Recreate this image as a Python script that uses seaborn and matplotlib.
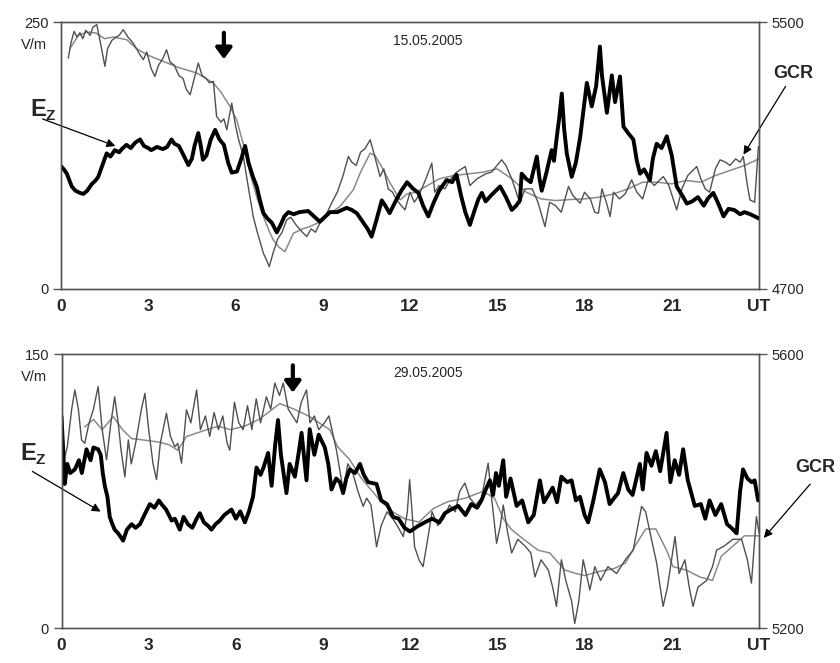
import numpy as np
import pandas as pd
import matplotlib
matplotlib.use("Agg")
import matplotlib.pyplot as plt
import seaborn as sns

sns.set_theme(style="white")
plt.rcParams['font.family'] = ['Liberation Sans', 'DejaVu Sans']

# ---------------- 15.05.2005 ----------------
ez1_t = [0.0,0.1,0.2,0.37,0.5,0.65,0.77,0.9,1.05,1.2,1.28,1.45,1.57,1.7,1.85,2.0,2.09,2.25,2.4,2.55,2.72,2.85,3.0,3.1,3.3,3.5,3.65,3.8,3.9,4.05,4.2,4.38,4.5,4.6,4.72,4.8,4.88,5.0,5.15,5.3,5.45,5.6,5.75,5.87,6.05,6.2,6.33,6.45,6.6,6.73,6.85,6.96,7.1,7.25,7.42,7.55,7.68,7.82,8.0,8.2,8.5,8.7,8.9,9.05,9.25,9.5,9.82,10.0,10.17,10.4,10.55,10.68,10.85,11.03,11.15,11.3,11.5,11.7,11.9,12.1,12.29,12.45,12.63,12.8,13.0,13.1,13.26,13.45,13.6,13.75,13.9,14.06,14.2,14.35,14.47,14.6,14.8,15.1,15.3,15.5,15.65,15.78,15.84,16.0,16.15,16.36,16.45,16.53,16.7,16.87,16.95,17.05,17.13,17.22,17.3,17.39,17.56,17.7,17.85,18.02,18.08,18.25,18.4,18.53,18.6,18.77,18.94,19.05,19.22,19.34,19.5,19.68,19.8,19.91,20.05,20.25,20.35,20.48,20.65,20.83,21.0,21.17,21.35,21.52,21.7,21.9,22.1,22.25,22.43,22.6,22.78,22.95,23.15,23.35,23.5,23.7,23.85,24.0]
ez1_v = [115,112,108,96,92,90,89,92,98,102,105,118,127,124,130,128,131,135,132,137,140,134,132,130,133,131,133,140,136,134,126,116,122,135,146,135,121,125,140,149,140,135,118,109,110,122,134,118,105,96,82,71,66,62,53,60,68,72,70,72,73,68,63,67,72,72,76,74,71,62,56,49,65,83,78,71,82,92,100,94,90,78,68,80,92,96,102,100,107,88,72,60,72,84,90,82,88,96,86,74,78,83,108,103,100,124,104,92,110,130,120,143,160,183,150,127,105,118,142,180,193,171,190,227,200,165,200,175,199,152,146,140,120,108,112,102,122,136,132,143,125,96,88,80,82,86,78,85,90,80,68,75,74,70,72,70,68,66]

gcr1a_t = [0.25,0.35,0.45,0.55,0.65,0.75,0.85,1.0,1.1,1.23,1.35,1.51,1.6,1.75,1.9,2.0,2.14,2.3,2.45,2.6,2.73,2.83,2.95,3.1,3.23,3.35,3.5,3.63,3.75,3.9,4.05,4.2,4.3,4.44,4.55,4.72,4.85,5.0,5.1,5.24,5.35,5.5,5.6,5.7,5.87,6.0,6.1,6.27,6.45,6.61,6.75,6.96,7.05,7.16,7.3,7.45,7.6,7.76,7.9,8.1,8.3,8.45,8.6,8.75,8.9,9.1,9.36,9.5,9.7,9.88,10.0,10.15,10.3,10.45,10.63,10.75,10.97,11.1,11.25,11.4,11.54,11.7,11.83,12.0,12.15,12.3,12.5,12.75,12.85,13.0,13.2,13.4,13.6,13.9,14.06,14.3,14.6,14.8,15.15,15.3,15.5,15.78,15.95,16.2,16.4,16.64,16.8,17.0,17.2,17.45,17.6,17.85,18.0,18.2,18.35,18.48,18.6,18.75,18.88,19.0,19.2,19.4,19.62,19.8,20.0,20.2,20.4,20.71,20.9,21.17,21.35,21.55,21.86,22.0,22.15,22.3,22.5,22.66,22.85,23.0,23.2,23.35,23.46,23.6,23.69,23.85,23.98]
gcr1a_v = [5392,5440,5472,5455,5468,5450,5475,5460,5485,5492,5440,5367,5420,5445,5455,5460,5477,5455,5440,5420,5400,5387,5410,5360,5337,5370,5390,5417,5380,5370,5340,5330,5300,5282,5320,5377,5340,5330,5318,5322,5217,5200,5210,5177,5257,5190,5150,5097,5000,4917,4870,4807,4790,4767,4810,4850,4870,4907,4915,4890,4870,4857,4880,4870,4897,4920,4967,4990,5040,5097,5080,5070,5110,5120,5147,5110,5037,5060,5000,4990,4967,4950,4937,4990,4960,4980,5020,5077,4990,5010,5000,5030,5050,5067,5010,5030,5045,5050,5087,5070,5030,4957,5000,5000,4960,4887,4960,4950,4930,5007,4980,4957,4990,4970,4930,4927,5000,4960,4917,4990,4970,4985,5027,4990,4970,5030,5010,5037,5010,4937,5000,5040,5067,5030,5000,4990,5060,5087,5080,5070,5090,5080,5097,5010,4967,4960,5127]

gcr1b_t = [0.3,0.6,0.9,1.2,1.5,1.8,2.26,2.6,3.0,3.52,4.0,4.67,5.24,5.5,5.81,6.04,6.25,6.5,6.75,6.96,7.15,7.3,7.5,7.7,7.99,8.3,8.56,9.0,9.3,9.59,10.05,10.3,10.63,10.8,11.0,11.3,11.66,11.9,12.2,12.6,13.0,13.5,14.0,14.5,15.0,15.5,16.0,16.5,17.0,17.5,18.0,18.5,19.0,19.5,20.0,20.5,21.0,21.5,22.0,22.5,23.0,23.5,24.0]
gcr1b_v = [5420,5460,5470,5467,5450,5455,5447,5420,5400,5382,5365,5347,5317,5290,5247,5207,5140,5047,4970,4917,4875,4847,4825,4812,4867,4880,4887,4905,4930,4947,4997,5050,5107,5100,5070,5020,4967,4985,4990,5010,5030,5040,5045,5050,5060,5030,4990,4970,4965,4968,4970,4975,4985,5000,5020,5020,5015,5025,5020,5040,5055,5070,5090]

# ---------------- 29.05.2005 ----------------
ez2_t = [0.0,0.05,0.11,0.2,0.3,0.46,0.6,0.7,0.86,1.0,1.1,1.26,1.35,1.42,1.49,1.58,1.66,1.75,1.83,1.95,2.12,2.25,2.41,2.55,2.7,2.85,3.04,3.2,3.35,3.44,3.6,3.79,3.9,4.07,4.2,4.35,4.5,4.65,4.76,4.9,5.05,5.16,5.3,5.45,5.6,5.85,6.0,6.15,6.31,6.45,6.59,6.71,6.85,6.95,7.11,7.23,7.35,7.45,7.55,7.74,7.85,8.03,8.15,8.26,8.43,8.54,8.7,8.85,9.06,9.18,9.29,9.45,9.58,9.69,9.8,9.92,10.1,10.27,10.4,10.55,10.84,11.0,11.2,11.41,11.6,11.8,11.99,12.27,12.5,12.75,13.0,13.19,13.4,13.65,13.9,14.1,14.3,14.45,14.6,14.74,14.85,14.95,15.05,15.2,15.3,15.45,15.66,15.85,16.06,16.25,16.46,16.6,16.75,16.9,17.05,17.2,17.4,17.55,17.7,17.84,18.0,18.12,18.3,18.52,18.7,18.86,19.0,19.15,19.33,19.5,19.65,19.9,20.0,20.13,20.3,20.45,20.6,20.82,20.95,21.1,21.25,21.39,21.55,21.79,22.0,22.15,22.3,22.5,22.7,22.9,23.05,23.23,23.35,23.45,23.6,23.75,23.85,23.97]
ez2_v = [116,100,79,90,85,87,92,85,98,92,99,98,95,85,78,72,61,57,54,52,48,54,57,55,57,62,68,66,70,68,65,59,60,54,61,57,55,60,63,58,56,54,57,59,62,65,60,64,58,64,72,88,84,88,96,78,100,114,95,74,90,83,95,107,81,109,95,106,99,90,76,82,80,74,82,87,85,90,84,80,79,70,68,61,60,55,53,56,58,60,58,63,65,67,62,68,66,70,76,81,73,85,78,92,72,82,67,70,58,62,81,69,73,77,69,83,80,81,70,72,62,58,70,87,80,68,71,74,85,76,73,90,76,96,89,97,86,107,80,92,84,98,81,67,68,60,70,62,68,57,55,52,75,87,82,80,81,70]

gcr2a_t = [0.05,0.2,0.35,0.46,0.58,0.69,0.8,0.95,1.1,1.26,1.4,1.55,1.7,1.83,1.95,2.05,2.18,2.3,2.4,2.55,2.75,2.87,3.0,3.15,3.27,3.4,3.61,3.75,3.9,4.0,4.13,4.3,4.45,4.65,4.78,4.95,5.1,5.25,5.4,5.55,5.7,5.79,5.95,6.1,6.25,6.4,6.55,6.7,6.85,7.05,7.2,7.34,7.5,7.63,7.8,7.95,8.1,8.25,8.43,8.55,8.7,8.85,9.05,9.2,9.46,9.58,9.69,9.85,10.0,10.2,10.38,10.5,10.65,10.84,11.0,11.2,11.4,11.55,11.76,11.9,11.98,12.15,12.3,12.44,12.6,12.75,12.95,13.15,13.35,13.55,13.7,13.88,14.05,14.25,14.45,14.68,14.8,14.97,15.1,15.2,15.35,15.49,15.7,15.95,16.15,16.29,16.5,16.75,16.9,17.03,17.2,17.35,17.55,17.66,17.8,17.95,18.18,18.35,18.55,18.8,19.1,19.4,19.67,19.96,20.1,20.3,20.48,20.6,20.7,20.85,21.11,21.25,21.45,21.6,21.73,21.9,22.2,22.4,22.54,22.8,23.1,23.4,23.6,23.74,23.91,24.0]
gcr2a_v = [5440,5465,5520,5548,5520,5475,5470,5500,5520,5553,5490,5446,5500,5538,5500,5460,5421,5475,5440,5470,5520,5543,5490,5440,5417,5470,5514,5480,5465,5470,5441,5519,5500,5548,5490,5510,5480,5515,5490,5510,5470,5460,5530,5500,5490,5525,5490,5535,5500,5538,5520,5558,5540,5558,5520,5510,5500,5530,5548,5500,5510,5490,5500,5510,5460,5430,5402,5440,5430,5400,5378,5390,5380,5319,5350,5370,5360,5350,5334,5370,5417,5319,5300,5290,5330,5370,5350,5360,5380,5370,5400,5412,5390,5380,5390,5441,5390,5324,5350,5380,5340,5310,5330,5320,5310,5275,5300,5285,5260,5232,5300,5270,5240,5207,5240,5300,5256,5290,5270,5290,5280,5300,5314,5378,5370,5330,5295,5260,5232,5260,5334,5280,5300,5260,5232,5260,5270,5290,5314,5320,5330,5330,5300,5266,5363,5340]

gcr2b_t = [0.8,1.1,1.4,1.78,2.1,2.41,2.8,3.33,3.7,4.0,4.3,4.93,5.4,5.8,6.3,6.8,7.51,8.0,8.5,9.23,9.5,9.92,10.3,10.95,11.4,11.8,12.3,12.8,13.3,13.9,14.5,14.9,15.2,15.49,15.9,16.4,16.8,17.32,17.7,18.0,18.5,19.0,19.4,19.79,20.1,20.45,20.82,21.04,21.5,21.96,22.4,22.7,23.1,23.5,24.0]
gcr2b_v = [5494,5505,5490,5509,5490,5477,5475,5472,5468,5460,5480,5489,5495,5490,5495,5505,5528,5520,5510,5490,5465,5446,5420,5387,5370,5360,5355,5375,5385,5390,5400,5390,5360,5344,5330,5314,5310,5285,5280,5277,5283,5287,5295,5324,5345,5345,5314,5290,5285,5275,5270,5305,5320,5335,5335]

x_ticks = [0, 3, 6, 9, 12, 15, 18, 21]
x_labels = ["0", "3", "6", "9", "12", "15", "18", "21"]

panels = [
    dict(ez_t=ez1_t, ez_v=ez1_v, ga_t=gcr1a_t, ga_v=gcr1a_v, gb_t=gcr1b_t, gb_v=gcr1b_v,
         ylim=(0, 250), y2lim=(4700, 5500), date="15.05.2005",
         rect=[61/840, 1-289/663, 698/840, 267/663], arrow_h=5.6,
         ez_lab=(30, 110), ez_from=(40, 118), ez_to=(118, 147),
         gcr_lab=(773, 73), gcr_from=(787, 84), gcr_to=(742, 157)),
    dict(ez_t=ez2_t, ez_v=ez2_v, ga_t=gcr2a_t, ga_v=gcr2a_v, gb_t=gcr2b_t, gb_v=gcr2b_v,
         ylim=(0, 150), y2lim=(5200, 5600), date="29.05.2005",
         rect=[61.5/840, 1-628.3/663, 697.5/840, 274/663], arrow_h=7.96,
         ez_lab=(20, 454), ez_from=(30, 470), ez_to=(103, 513),
         gcr_lab=(795, 467), gcr_from=(812, 482), gcr_to=(762, 540)),
]

fig = plt.figure(figsize=(8.4, 6.63), dpi=100)
spine_col = "#555555"

def px(x, y):
    return (x / 840, 1 - y / 663)

for p in panels:
    ax = fig.add_axes(p["rect"])
    ax2 = ax.twinx()
    df_a = pd.DataFrame({"t": p["ga_t"], "v": p["ga_v"]})
    df_b = pd.DataFrame({"t": p["gb_t"], "v": p["gb_v"]})
    df_e = pd.DataFrame({"t": p["ez_t"], "v": p["ez_v"]})
    sns.lineplot(data=df_b, x="t", y="v", ax=ax2, color="#8a8a8a", linewidth=1.1, sort=False)
    sns.lineplot(data=df_a, x="t", y="v", ax=ax2, color="#505050", linewidth=1.0, sort=False)
    sns.lineplot(data=df_e, x="t", y="v", ax=ax, color="black", linewidth=2.8, sort=False)
    ax.set_zorder(ax2.get_zorder() + 1)
    ax.patch.set_visible(False)

    ax.set_xlim(0, 24)
    ax.set_ylim(*p["ylim"])
    ax2.set_ylim(*p["y2lim"])
    ax.set_xlabel("")
    ax.set_ylabel("")
    ax2.set_ylabel("")
    ax.set_xticks(x_ticks + [24])
    ax.set_xticklabels(x_labels + ["UT"], fontsize=12.5, fontweight="bold")
    ax.set_yticks(list(p["ylim"]))
    ax.set_yticklabels([str(v) for v in p["ylim"]], fontsize=10.5)
    ax2.set_yticks(list(p["y2lim"]))
    ax2.set_yticklabels([str(v) for v in p["y2lim"]], fontsize=10.5)
    for a in (ax, ax2):
        for s in a.spines.values():
            s.set_color(spine_col)
            s.set_linewidth(1.0)
        a.tick_params(axis="both", direction="out", length=6, width=1, color=spine_col, pad=3)
    ax.tick_params(axis="x", pad=1)

    ax.text(12.6, p["ylim"][1] * 0.93, p["date"], fontsize=10, ha="center", va="center")
    ax.annotate("", xy=(p["arrow_h"], p["ylim"][1] * 0.85), xytext=(p["arrow_h"], p["ylim"][1] * 0.97),
                arrowprops=dict(arrowstyle="-|>,head_width=0.4,head_length=0.55", color="black", lw=3))

    top_px = 663 - (p["rect"][1] + p["rect"][3]) * 663
    fig.text(*px(47, top_px + 23), "V/m", fontsize=10.5, ha="right", va="center")

    ex, ey = p["ez_lab"]
    fig.text(*px(ex, ey), "E", fontsize=17, fontweight="bold", ha="left", va="center")
    fig.text(*px(ex + 15, ey + 6), "Z", fontsize=11, fontweight="bold", ha="left", va="center")
    fig.add_artist(matplotlib.patches.FancyArrowPatch(px(*p["ez_from"]), px(*p["ez_to"]),
                   transform=fig.transFigure, arrowstyle="-|>,head_width=2.5,head_length=5",
                   color="black", lw=0.9))
    gx, gy = p["gcr_lab"]
    fig.text(*px(gx, gy), "GCR", fontsize=13, fontweight="bold", ha="left", va="center")
    fig.add_artist(matplotlib.patches.FancyArrowPatch(px(*p["gcr_from"]), px(*p["gcr_to"]),
                   transform=fig.transFigure, arrowstyle="-|>,head_width=2.5,head_length=5",
                   color="black", lw=0.9))

fig.savefig("out.png", dpi=100)
